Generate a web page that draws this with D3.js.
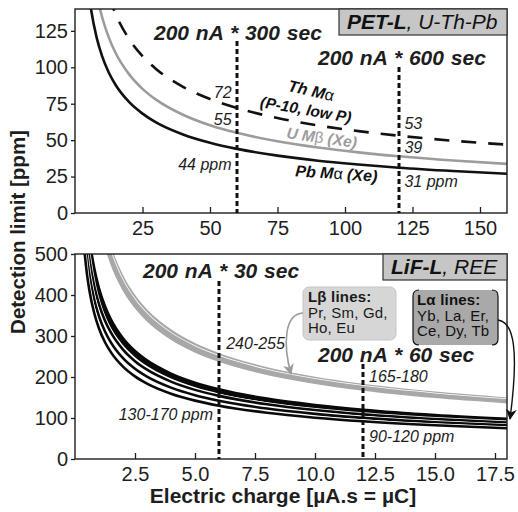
<!DOCTYPE html>
<html><head><meta charset="utf-8">
<script src="https://cdn.jsdelivr.net/npm/d3@7"></script>
<style>
body{margin:0;background:#fff}
svg{display:block;font-family:"Liberation Sans",Arial,Helvetica,sans-serif}
</style>
</head><body>
<svg id="chart" width="518" height="512"></svg>
<script>
// ---------- DATA ----------
// Top panel: PET-L, U-Th-Pb  (charge in µC, detection limit in ppm)
const chargeTop = [4, 5, 6, 8, 10, 12.5, 15, 20, 25, 30, 40, 50, 60, 75, 90, 105, 120, 140, 160];
const pbMa = [170.4, 152.4, 139.1, 120.5, 107.8, 96.4, 88.0, 76.2, 68.2, 62.2, 53.9, 48.2, 44.0, 39.4, 35.9, 33.3, 31.1, 28.8, 26.9];
const uMb  = [213.0, 190.5, 173.9, 150.6, 134.7, 120.5, 110.0, 95.3, 85.2, 77.8, 67.4, 60.2, 55.0, 49.2, 44.9, 41.6, 38.9, 36.0, 33.7];
const thMa = [258.2, 231.7, 212.1, 184.7, 165.9, 149.2, 136.8, 119.5, 107.6, 98.9, 86.6, 78.2, 72.0, 65.2, 60.1, 56.2, 53.0, 49.6, 46.9];
const topTicksX = [25, 50, 75, 100, 125, 150];
const topTicksY = [0, 25, 50, 75, 100, 125];
const topMarks = [60, 120];

// Bottom panel: LiF-L, REE
const chargeBottom = [0.4, 0.5, 0.6, 0.8, 1, 1.25, 1.5, 2, 2.5, 3, 4, 5, 6, 8, 10, 12, 15, 18];
const laYb = [658.4, 588.9, 537.5, 465.6, 416.3, 372.5, 340, 294.4, 263.3, 240.4, 208.3, 186.2, 170, 147.2, 131.8, 120.2, 107.4, 98.1];
const laLa = [646.8, 578.5, 528.1, 457.4, 409.0, 365.9, 334, 289.2, 258.7, 236.1, 204.6, 182.9, 167, 144.6, 129.4, 118.1, 105.5, 96.4];
const laEr = [631.3, 564.6, 515.4, 446.5, 399.2, 357.1, 326, 282.3, 252.5, 230.5, 199.7, 178.5, 163, 141.2, 126.3, 115.2, 103.0, 94.1];
const laCe = [596.4, 533.5, 487.0, 421.8, 377.1, 337.4, 308, 266.7, 238.5, 217.8, 188.7, 168.6, 154, 133.4, 119.4, 108.9, 97.3, 88.9];
const laDy = [550.0, 491.9, 449.0, 388.9, 347.8, 311.1, 284, 245.9, 220.0, 200.8, 174.0, 155.5, 142, 123.0, 110.1, 100.4, 89.7, 81.9];
const laTb = [503.5, 450.3, 411.1, 356.1, 318.4, 284.8, 260, 225.2, 201.4, 183.8, 159.3, 142.4, 130, 112.6, 100.8, 91.9, 82.2, 75.0];
const lbPr = [987.6, 883.3, 806.3, 698.4, 624.5, 558.7, 510, 441.7, 395.0, 360.6, 312.4, 279.2, 255, 220.8, 197.6, 180.3, 161.2, 147.1];
const lbSm = [976.0, 872.9, 796.8, 690.2, 617.1, 551.7, 504, 436.5, 390.3, 356.3, 308.7, 275.9, 252, 218.2, 195.3, 178.2, 159.3, 145.4];
const lbGd = [960.5, 859.1, 784.2, 679.3, 607.4, 543.4, 496, 429.5, 384.2, 350.7, 303.8, 271.6, 248, 214.8, 192.2, 175.3, 156.7, 143.1];
const lbHo = [945.0, 845.2, 771.5, 668.3, 597.6, 534.6, 488, 422.6, 378.0, 345.0, 298.9, 267.2, 244, 211.3, 189.1, 172.5, 154.2, 140.8];
const lbEu = [929.5, 831.4, 758.9, 657.4, 587.8, 525.8, 480, 415.7, 371.8, 339.4, 294.0, 262.8, 240, 207.8, 186.0, 169.7, 151.7, 138.5];
const bottomTicksX = [2.5, 5, 7.5, 10, 12.5, 15, 17.5];
const bottomTicksY = [0, 100, 200, 300, 400, 500];
const bottomMarks = [6, 12];

// ---------- CHART ----------
const svg = d3.select("#chart");
const ink = "#1e1e1e";

const xT = d3.scaleLinear().domain([0, 160]).range([75, 507]);
const yT = d3.scaleLinear().domain([0, 140]).range([213, 9]);
const xB = d3.scaleLinear().domain([0, 18]).range([75, 507]);
const yB = d3.scaleLinear().domain([0, 500]).range([459, 254]);

const defs = svg.append("defs");
defs.append("clipPath").attr("id", "clipT").append("rect")
  .attr("x", 75).attr("y", 9).attr("width", 432).attr("height", 204);
defs.append("clipPath").attr("id", "clipB").append("rect")
  .attr("x", 75).attr("y", 254).attr("width", 432).attr("height", 205);
function marker(id, color) {
  defs.append("marker").attr("id", id).attr("viewBox", "0 0 10 10")
    .attr("refX", 9).attr("refY", 5).attr("markerWidth", 11).attr("markerHeight", 11)
    .attr("markerUnits", "userSpaceOnUse").attr("orient", "auto")
    .append("path").attr("d", "M0,0 L10,5 L0,10 L3,5 z").attr("fill", color);
}
marker("ahGray", "#9a9a9a");
marker("ahBlack", "#111");

function styleAxis(g) {
  g.select(".domain").remove();
  g.selectAll("line").attr("stroke", ink).attr("stroke-width", 1.3);
  g.selectAll("text").attr("fill", ink).attr("font-size", 20)
    .attr("font-family", '"Liberation Sans", Arial, sans-serif');
}

function panel(x, y, ticksX, ticksY, clipId, fmtX) {
  const g = svg.append("g");
  g.append("g").attr("transform", `translate(0,${y.range()[0]})`)
    .call(d3.axisBottom(x).tickValues(ticksX).tickSize(-6).tickPadding(8).tickFormat(fmtX))
    .call(styleAxis);
  g.append("g").attr("transform", `translate(${x.range()[0]},0)`)
    .call(d3.axisLeft(y).tickValues(ticksY).tickSize(4).tickPadding(3).tickFormat(d3.format("d")))
    .call(styleAxis);
  const plot = g.append("g").attr("clip-path", `url(#${clipId})`);
  return {g, plot};
}

// ---- Top panel ----
const T = panel(xT, yT, topTicksX, topTicksY, "clipT", d3.format("d"));
const lineT = d3.line().x((d, i) => xT(chargeTop[i])).y(d => yT(d)).curve(d3.curveMonotoneX);
T.plot.append("path").datum(thMa).attr("d", lineT).attr("fill", "none")
  .attr("stroke", "#111").attr("stroke-width", 2.6).attr("stroke-dasharray", "15,12");
T.plot.append("path").datum(uMb).attr("d", lineT).attr("fill", "none")
  .attr("stroke", "#9c9c9c").attr("stroke-width", 2.6);
T.plot.append("path").datum(pbMa).attr("d", lineT).attr("fill", "none")
  .attr("stroke", "#111").attr("stroke-width", 2.6);

// ---- Bottom panel ----
const B = panel(xB, yB, bottomTicksX, bottomTicksY, "clipB", d3.format(".1f"));
const lineB = d3.line().x((d, i) => xB(chargeBottom[i])).y(d => yB(d)).curve(d3.curveMonotoneX);
// Lβ band: gray lines, one white seam inside
[lbPr, lbSm, lbGd, lbHo, lbEu].forEach((s, i) => {
  if (i === 2) {
    B.plot.append("path").datum(s).attr("d", lineB).attr("fill", "none")
      .attr("stroke", "#fff").attr("stroke-width", 4.2);
  }
  B.plot.append("path").datum(s).attr("d", lineB).attr("fill", "none")
    .attr("stroke", "#a8a8a8").attr("stroke-width", 2.6);
});
// Lα band: black lines, lower ones separated by white seams
[laYb, laLa, laEr, laCe, laDy, laTb].forEach((s, i) => {
  if (i >= 3) {
    B.plot.append("path").datum(s).attr("d", lineB).attr("fill", "none")
      .attr("stroke", "#fff").attr("stroke-width", 4);
  }
  B.plot.append("path").datum(s).attr("d", lineB).attr("fill", "none")
    .attr("stroke", "#0a0a0a").attr("stroke-width", 2.6);
});

// ---- frames ----
[[xT, yT], [xB, yB]].forEach(([x, y]) => {
  svg.append("rect").attr("x", x.range()[0]).attr("y", y.range()[1])
    .attr("width", x.range()[1] - x.range()[0]).attr("height", y.range()[0] - y.range()[1])
    .attr("fill", "none").attr("stroke", ink).attr("stroke-width", 1.4);
});

// ---- vertical dotted marker lines ----
const markTopStart = [41, 67];
topMarks.forEach((m, i) => {
  svg.append("line").attr("x1", xT(m)).attr("x2", xT(m)).attr("y1", markTopStart[i]).attr("y2", yT(0))
    .attr("stroke", "#111").attr("stroke-width", 3).attr("stroke-dasharray", "5,3");
});
const markBotStart = [281, 364];
bottomMarks.forEach((m, i) => {
  svg.append("line").attr("x1", xB(m)).attr("x2", xB(m)).attr("y1", markBotStart[i]).attr("y2", yB(0))
    .attr("stroke", "#111").attr("stroke-width", 3).attr("stroke-dasharray", "5,3");
});

// ---- text helpers ----
function text(x, y, str, o = {}) {
  const t = svg.append("text").attr("x", x).attr("y", y).text(str)
    .attr("font-size", o.size || 16).attr("fill", o.fill || ink)
    .attr("font-weight", o.weight || "normal").attr("font-style", o.style || "normal")
    .attr("text-anchor", o.anchor || "start");
  if (o.ws) t.attr("word-spacing", o.ws);
  if (o.rot) t.attr("transform", `rotate(${o.rot},${x},${y})`);
  return t;
}

// titles of acquisition time
text(154, 40, "200 nA * 300 sec", {size: 21, weight: "bold", style: "italic", ws: 1});
text(318, 65, "200 nA * 600 sec", {size: 21, weight: "bold", style: "italic", ws: 1});
text(143, 278, "200 nA * 30 sec", {size: 21, weight: "bold", style: "italic", ws: 1});
text(318, 362, "200 nA * 60 sec", {size: 21, weight: "bold", style: "italic", ws: 1});

// top value labels
text(xT(58), 98, "72", {size: 16, style: "italic", anchor: "end"});
text(xT(58), 125, "55", {size: 16, style: "italic", anchor: "end"});
text(xT(58), 170, "44 ppm", {size: 16, style: "italic", anchor: "end"});
text(xT(122), 129, "53", {size: 16, style: "italic"});
text(xT(122), 153, "39", {size: 16, style: "italic"});
text(xT(122), 187, "31 ppm", {size: 16, style: "italic"});

// bottom value labels
text(xB(6.3), 349, "240-255", {size: 16, style: "italic"});
text(xB(5.75), 420, "130-170 ppm", {size: 16, style: "italic", anchor: "end"});
text(xB(12.25), 382, "165-180", {size: 16, style: "italic"});
text(xB(12.25), 442, "90-120 ppm", {size: 16, style: "italic"});

// series labels (top)
function seriesLabel(x, y, rot, fill, parts, size) {
  const t = svg.append("text").attr("x", x).attr("y", y).attr("font-size", size)
    .attr("fill", fill).attr("text-anchor", "middle").attr("font-weight", "bold").attr("font-style", "italic")
    .attr("transform", `rotate(${rot},${x},${y})`);
  parts.forEach(p => {
    const s = t.append("tspan").text(p[0]);
    if (p[1]) s.attr("font-weight", "normal").attr("font-style", "normal");
  });
}
seriesLabel(310, 96, 13, "#111", [["Th M"], ["α", true]], 16);
seriesLabel(305, 115, 10, "#111", [["(P-10, low P)"]], 15.5);
seriesLabel(321, 143, 8, "#9c9c9c", [["U M"], ["β", true], [" (Xe)"]], 15.5);
seriesLabel(336, 179, 4, "#111", [["Pb M"], ["α", true], [" (Xe)"]], 16);

// crystal boxes
function crystalBox(x0, y0, w, h, bold, rest) {
  svg.append("rect").attr("x", x0).attr("y", y0).attr("width", w).attr("height", h)
    .attr("fill", "#c6c6c6").attr("stroke", "#333").attr("stroke-width", 1.2);
  const t = svg.append("text").attr("x", x0 + 8).attr("y", y0 + 20).attr("font-size", 21).attr("fill", "#111");
  t.append("tspan").text(bold).attr("font-weight", "bold").attr("font-style", "italic");
  t.append("tspan").text(rest).attr("font-style", "italic");
}
crystalBox(339, 9, 168, 26, "PET-L", ", U-Th-Pb");
crystalBox(383, 254, 124, 26, "LiF-L", ", REE");

// Lβ callout
svg.append("rect").attr("x", 303).attr("y", 287).attr("width", 93).attr("height", 53).attr("rx", 6)
  .attr("fill", "#d6d6d6").attr("stroke", "#c4c4c4").attr("stroke-width", 1);
[["Lβ lines:", 302, "bold"], ["Pr, Sm, Gd,", 317.5, "normal"], ["Ho, Eu", 333, "normal"]].forEach(r => {
  svg.append("text").attr("x", 308).attr("y", r[1]).attr("font-size", 15).attr("fill", "#1a1a1a")
    .attr("font-weight", r[2]).attr("letter-spacing", 0.2).text(r[0]);
});
svg.append("path").attr("d", "M303,313 C284,314 283,345 291,374")
  .attr("fill", "none").attr("stroke", "#9a9a9a").attr("stroke-width", 1.6).attr("marker-end", "url(#ahGray)");

// Lα callout
svg.append("rect").attr("x", 413).attr("y", 290).attr("width", 85).attr("height", 55).attr("rx", 5)
  .attr("fill", "#a9a9a9");
svg.append("path").attr("d", "M419,290 Q413,290 413,296 L413,339 Q413,345 419,345")
  .attr("fill", "none").attr("stroke", "#111").attr("stroke-width", 1.2);
svg.append("path").attr("d", "M492,290 Q498,290 498,296 L498,339 Q498,345 492,345")
  .attr("fill", "none").attr("stroke", "#111").attr("stroke-width", 1.2);
[["Lα lines:", 305, "bold"], ["Yb, La, Er,", 320.5, "normal"], ["Ce, Dy, Tb", 336, "normal"]].forEach(r => {
  svg.append("text").attr("x", 417).attr("y", r[1]).attr("font-size", 15).attr("fill", "#111")
    .attr("font-weight", r[2]).attr("letter-spacing", 0.2).text(r[0]);
});
svg.append("path").attr("d", "M498,320 C514,322 519,350 510,419")
  .attr("fill", "none").attr("stroke", "#111").attr("stroke-width", 1.4).attr("marker-end", "url(#ahBlack)");

// axis titles
text(283, 503, "Electric charge [µA.s = µC]", {size: 21, weight: "bold", anchor: "middle"});
text(25, 232, "Detection limit [ppm]", {size: 20.5, weight: "bold", anchor: "middle", rot: -90});
</script>
</body></html>
